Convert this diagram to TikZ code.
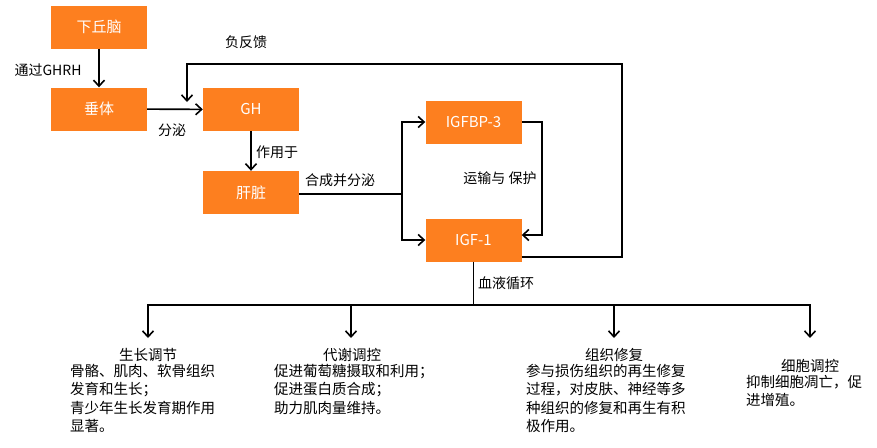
\documentclass[tikz,border=0pt]{standalone}
\usepackage{fontspec}
\setmainfont{Noto Sans CJK SC}
\usetikzlibrary{arrows.meta}
\definecolor{org}{RGB}{253,127,31}
\begin{document}
\begin{tikzpicture}[x=1pt,y=-1pt,
 box/.style={fill=org,draw=none,minimum width=96pt,minimum height=43pt,inner sep=0pt,text=white,font=\fontsize{15}{18}\selectfont},
 lbl/.style={font=\fontsize{14}{17}\selectfont,inner sep=0pt},
 conn/.style={line width=1.6pt,-{Straight Barb[length=6pt,width=11pt,line width=1.6pt]}},
 plain/.style={line width=1.6pt},
 ttl/.style={font=\fontsize{14.5}{18}\selectfont,inner sep=0pt},
 body/.style={font=\fontsize{14.5}{18.5}\selectfont,align=left,inner sep=0pt,anchor=north west}]
\useasboundingbox[fill=white] (0,0) rectangle (877,447);
% boxes
\node[box] (hyp) at (99,27) {下丘脑};
\node[box] (pit) at (99,109) {垂体};
\node[box] (gh) at (251,109.5) {GH};
\node[box] (liv) at (251,192.5) {肝脏};
\node[box] (bp3) at (473.5,122) {IGFBP-3};
\node[box] (igf) at (473.5,240) {IGF-1};
% labels
\node[lbl] (l1) at (48,70) {通过GHRH};
\node[lbl] (l2) at (172,130) {分泌};
\node[lbl] (l3) at (246,42) {负反馈};
\node[lbl] (l4) at (277,152) {作用于};
\node[lbl] (l5) at (340,180) {合成并分泌};
\node[lbl] (l6) at (500,178) {运输与 保护};
\node[lbl] (l7) at (506,283) {血液循环};
% connectors
\draw[conn] (hyp) -- (pit);
\draw[conn] (pit) -- (gh);
\draw[conn] (gh) -- (liv);
\coordinate (split) at (402,194);
\draw[plain] (liv.east |- split) -- (split);
\draw[conn] (split) |- (bp3.west);
\draw[conn] (split) |- (igf.west);
\draw[conn] (bp3.east) -- (542,122) |- ([yshift=5pt]igf.east);
\coordinate (fbend) at (187,102);
\draw[conn] ([yshift=-17pt]igf.east) -- (622,257) -- (622,64) -- (187,64) -- (fbend);
% distribution
\coordinate (bus) at (473.5,305);
\coordinate (b1) at (148,338);
\coordinate (b2) at (351,338);
\coordinate (b3) at (614,338);
\coordinate (b4) at (810,338);
\draw[plain] (igf.south) -- (bus);
\draw[plain] (148,305) -- (810,305);
\draw[conn] (148,304.2) -- (b1);
\draw[conn] (351,305) -- (b2);
\draw[conn] (614,305) -- (b3);
\draw[conn] (810,304.2) -- (b4);
% text blocks
\node[ttl] (t1) at (148,355) {生长调节};
\node[body] (d1) at (70,364) {骨骼、肌肉、软骨组织\\发育和生长；\\青少年生长发育期作用\\显著。};
\node[ttl] (t2) at (352,355) {代谢调控};
\node[body] (d2) at (274,364) {促进葡萄糖摄取和利用；\\促进蛋白质合成；\\助力肌肉量维持。};
\node[ttl] (t3) at (614,355) {组织修复};
\node[body] (d3) at (526,364) {参与损伤组织的再生修复\\过程，对皮肤、神经等多\\种组织的修复和再生有积\\极作用。};
\node[ttl] (t4) at (810,366) {细胞调控};
\node[body] (d4) at (746,375) {抑制细胞凋亡，促\\进增殖。};
\end{tikzpicture}
\end{document}
